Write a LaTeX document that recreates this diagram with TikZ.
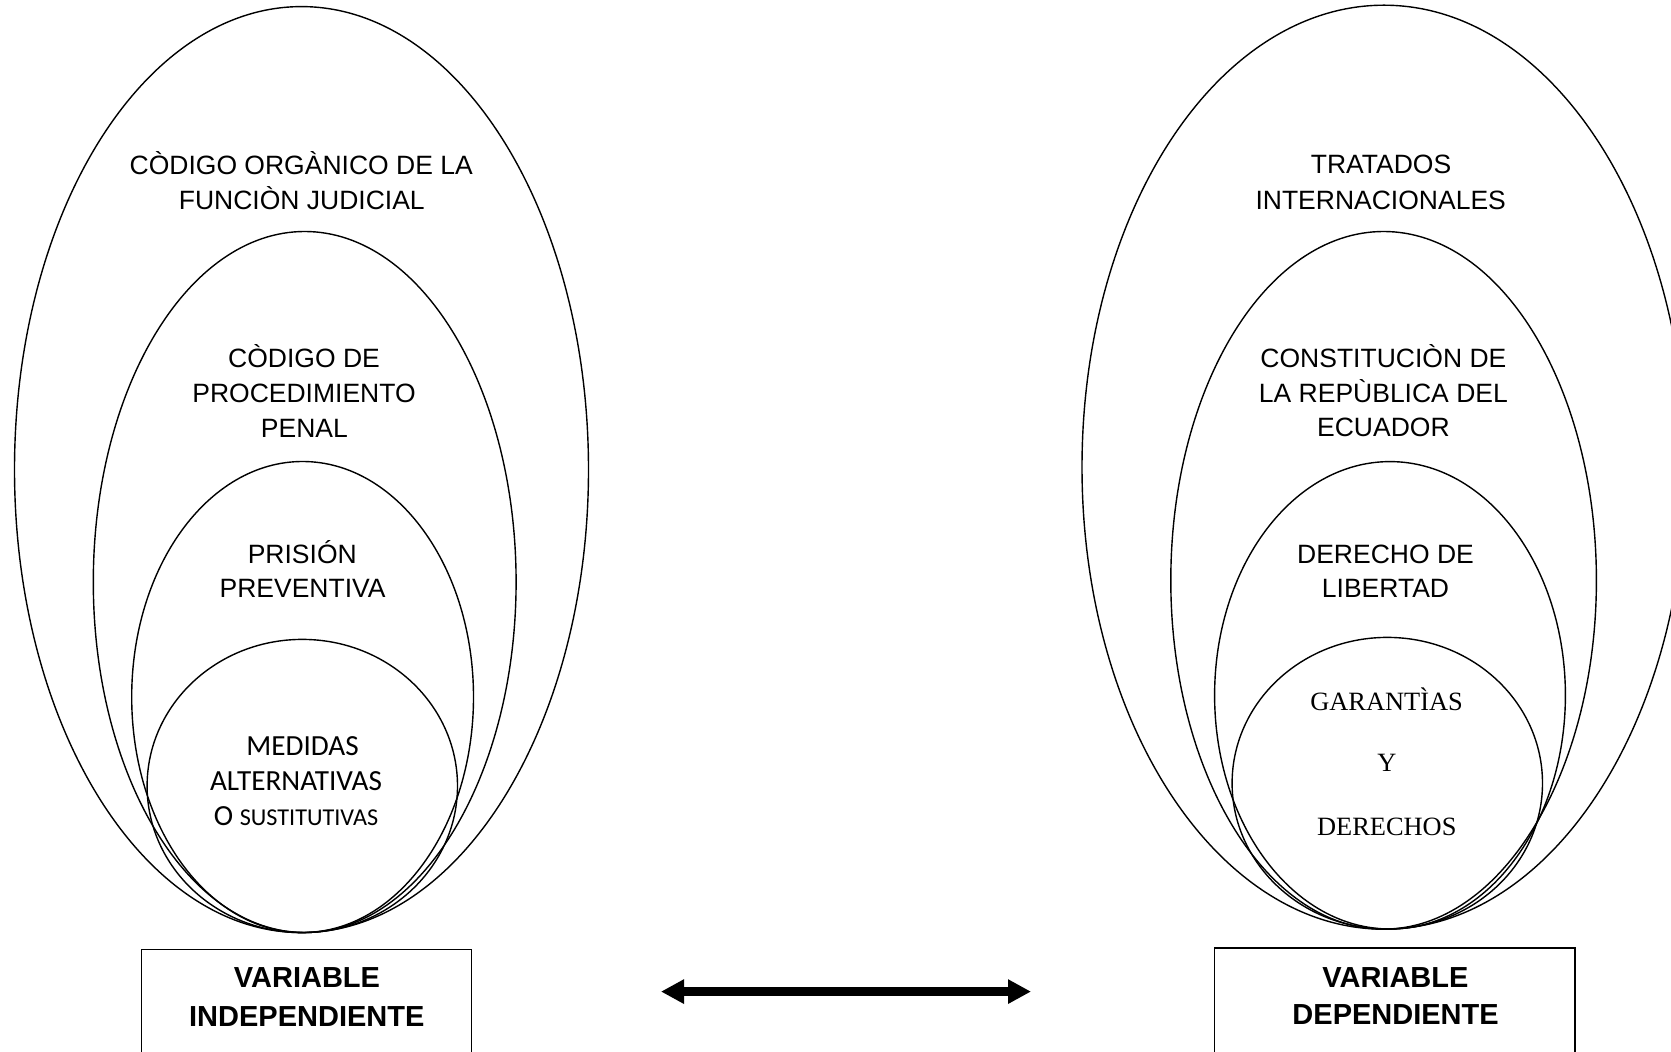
\documentclass[tikz,border=0pt]{standalone}
\usepackage{fontspec}
\setmainfont{Liberation Sans}
\newfontfamily\calib{Carlito}
\newfontfamily\timesf{Liberation Serif}
\usetikzlibrary{shapes.geometric,arrows.meta}
\tikzset{
  oval/.style={ellipse, draw, line width=0.7pt, inner sep=0pt, outer sep=0pt},
  ar/.style={font=\fontsize{13.25}{16}\selectfont, anchor=base, inner sep=0pt},
  cal/.style={font=\calib\fontsize{14.6}{17}\selectfont, anchor=base, inner sep=0pt},
  tim/.style={font=\timesf\fontsize{13.2}{16}\selectfont, anchor=base, inner sep=0pt},
  bd/.style={font=\bfseries\fontsize{14.5}{17}\selectfont, anchor=base, inner sep=0pt},
  varbox/.style={draw, line width=0.6pt, inner sep=0pt},
  dblarrow/.style={line width=4.15pt, {Triangle[length=11.5pt,width=11.5pt]}-{Triangle[length=11.5pt,width=11.5pt]}}
}
\begin{document}
\begin{tikzpicture}[x=0.5pt,y=-0.5pt]
\path[use as bounding box, fill=white] (0,0) rectangle (1671,1052);

% left group
\node[oval, minimum width=287pt, minimum height=463pt] (e1) at (301.5,469.6) {};
\node[oval, minimum width=211.4pt, minimum height=350.5pt] (e2) at (304.7,582) {};
\node[oval, minimum width=170.9pt, minimum height=235.5pt] (e3) at (302.6,697) {};
\node[oval, minimum width=155.2pt, minimum height=146.6pt] (e4) at (302.3,786) {};

\node[ar] (l1a) at (301.2,175) {CÒDIGO ORGÀNICO DE LA};
\node[ar] (l1b) at (301.8,209.5) {FUNCIÒN JUDICIAL};
\node[ar] (l2a) at (304,367.5) {CÒDIGO DE};
\node[ar] (l2b) at (304,402.5) {PROCEDIMIENTO};
\node[ar] (l2c) at (304.4,437.5) {PENAL};
\node[ar] (l3a) at (302.3,563.5) {PRISIÓN};
\node[ar] (l3b) at (302.6,597.5) {PREVENTIVA};
\node[cal] (l4a) at (302.6,755.4) {MEDIDAS};
\node[cal] (l4b) at (296,790.4) {ALTERNATIVAS};
\node[cal] (l4c) at (296,826) {O {\fontsize{12.1}{14}\selectfont SUSTITUTIVAS}};

\node[varbox, minimum width=165pt, minimum height=53.35pt] (lbox) at (306.3,1002.65) {};
\node[bd] (lb1) at (307,987) {VARIABLE};
\node[bd] (lb2) at (306.8,1026) {INDEPENDIENTE};

% right group
\node[oval, minimum width=302pt, minimum height=462pt] (f1) at (1384,467.2) {};
\node[oval, minimum width=212.8pt, minimum height=348.8pt] (f2) at (1383.6,580.3) {};
\node[oval, minimum width=175.4pt, minimum height=233.7pt] (f3) at (1390,695.3) {};
\node[oval, minimum width=155.2pt, minimum height=145.8pt] (f4) at (1387.3,783.2) {};

\node[ar] (r1a) at (1381,174) {TRATADOS};
\node[ar] (r1b) at (1380.7,209.5) {INTERNACIONALES};
\node[ar] (r2a) at (1383.4,367.5) {CONSTITUCIÒN DE};
\node[ar] (r2b) at (1383.4,402.5) {LA REPÙBLICA DEL};
\node[ar] (r2c) at (1383.4,436.5) {ECUADOR};
\node[ar] (r3a) at (1385.5,563.5) {DERECHO DE};
\node[ar] (r3b) at (1385.5,597.5) {LIBERTAD};
\node[tim] (r4a) at (1386.6,711) {GARANTÌAS};
\node[tim] (r4b) at (1386.8,772) {Y};
\node[tim] (r4c) at (1386.8,835.7) {DERECHOS};

\node[varbox, minimum width=180.2pt, minimum height=54pt] (rbox) at (1394.8,1002) {};
\node[bd] (rb1) at (1395.4,987) {VARIABLE};
\node[bd] (rb2) at (1395.6,1024.4) {DEPENDIENTE};

% arrow
\coordinate (aL) at (661,991.6);
\coordinate (aR) at (1031,991.6);
\draw[dblarrow] (aL) -- (aR);
\end{tikzpicture}
\end{document}
